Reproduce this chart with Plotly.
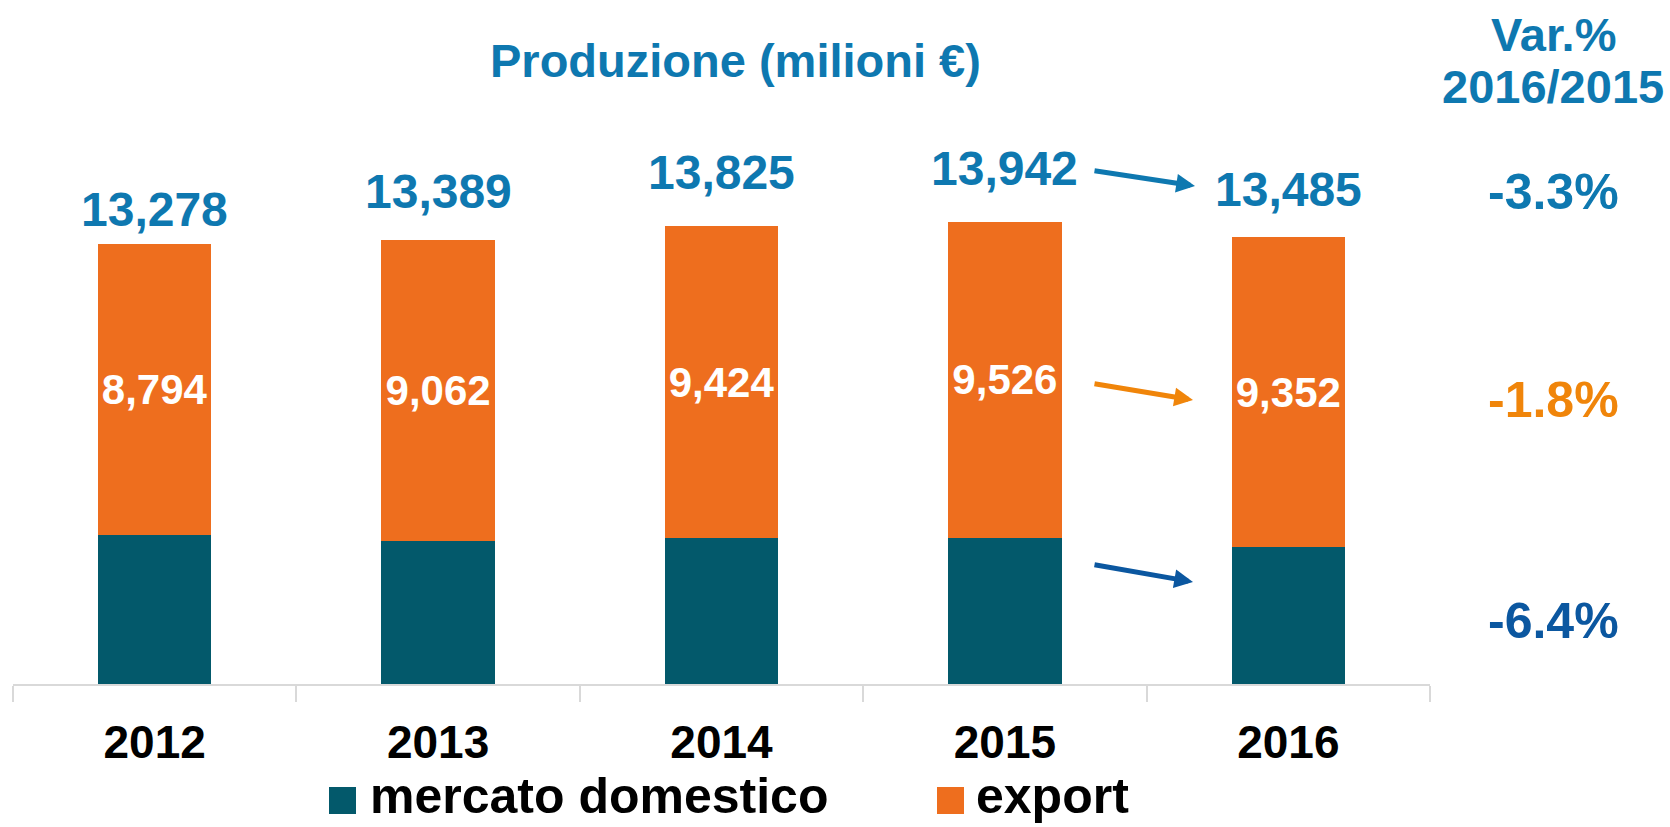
import plotly.graph_objects as go

# ---- data ----
years = ["2012", "2013", "2014", "2015", "2016"]
totals = [13278, 13389, 13825, 13942, 13485]
export = [8794, 9062, 9424, 9526, 9352]
domestic = [t - e for t, e in zip(totals, export)]
var_labels = ["-3.3%", "-1.8%", "-6.4%"]
series_names = ["mercato domestico", "export"]

# ---- style ----
C_ORANGE = "#EE6E1E"
C_TEAL = "#03596B"
C_BLUE = "#0E78B0"
C_DBLUE = "#0B57A0"
C_ORANGE2 = "#F0850A"
FONT = "Liberation Sans, Arial, sans-serif"

W, H = 1670, 827
ML, MR, MT, MB = 13, 240, 154, 143
PW, PH = W - ML - MR, H - MT - MB


def px(x):
    return (x - ML) / PW


def py(y):
    return (H - MB - y) / PH


fig = go.Figure()
fig.add_trace(go.Bar(
    x=years, y=domestic, name=series_names[0], marker_color=C_TEAL,
    marker_line_width=0, showlegend=False, hoverinfo="skip"))
fig.add_trace(go.Bar(
    x=years, y=export, name=series_names[1], marker_color=C_ORANGE,
    marker_line_width=0, showlegend=False,
    text=[f"{v:,}" for v in export], textposition="inside",
    insidetextanchor="middle", textangle=0, constraintext="none",
    textfont=dict(family=FONT, size=42, color="white", weight="bold"),
    hoverinfo="skip"))

# totals above bars
total_offsets = [35, 49, 54, 54, 48]
annotations = []
for i, (t, off) in enumerate(zip(totals, total_offsets)):
    annotations.append(dict(
        x=i, y=t, xref="x", yref="y", text=f"{t:,}", showarrow=False,
        xanchor="center", yanchor="middle", yshift=off,
        font=dict(family=FONT, size=48, color=C_BLUE, weight="bold")))

# title and headers
annotations.append(dict(x=px(735), y=py(61), xref="paper", yref="paper",
                        text="Produzione (milioni €)", showarrow=False,
                        xanchor="center", yanchor="middle",
                        font=dict(family=FONT, size=47, color=C_BLUE, weight="bold")))
annotations.append(dict(x=px(1553), y=py(35), xref="paper", yref="paper",
                        text="Var.%", showarrow=False, xanchor="center", yanchor="middle",
                        font=dict(family=FONT, size=47, color=C_BLUE, weight="bold")))
annotations.append(dict(x=px(1553), y=py(87), xref="paper", yref="paper",
                        text="2016/2015", showarrow=False, xanchor="center", yanchor="middle",
                        font=dict(family=FONT, size=47, color=C_BLUE, weight="bold")))

var_colors = [C_BLUE, C_ORANGE2, C_DBLUE]
var_y = [192, 400, 621]
for t, c, yy in zip(var_labels, var_colors, var_y):
    annotations.append(dict(x=px(1553), y=py(yy), xref="paper", yref="paper",
                            text=t, showarrow=False, xanchor="center", yanchor="middle",
                            font=dict(family=FONT, size=50, color=c, weight="bold")))

# arrows
arrows = [((1195, 186), (-102, -15.5), C_BLUE),
          ((1193, 400), (-100, -16.5), C_ORANGE2),
          ((1193, 582), (-100, -17.5), C_DBLUE)]
for (hx, hy), (ax, ay), c in arrows:
    annotations.append(dict(x=px(hx), y=py(hy), xref="paper", yref="paper",
                            ax=ax, ay=ay, axref="pixel", ayref="pixel", text="",
                            showarrow=True, arrowhead=2, arrowsize=0.75,
                            arrowwidth=5, arrowcolor=c))

# manual legend
shapes = []
leg_items = [(329, 369, C_TEAL, series_names[0]), (937, 975, C_ORANGE, series_names[1])]
for sx, tx, c, name in leg_items:
    shapes.append(dict(type="rect", xref="paper", yref="paper",
                       x0=px(sx), x1=px(sx + 27), y0=py(814), y1=py(787),
                       fillcolor=c, line_width=0))
    annotations.append(dict(x=px(tx), y=py(796), xref="paper", yref="paper",
                            text=name, showarrow=False, xanchor="left", yanchor="middle",
                            borderpad=0,
                            font=dict(family=FONT, size=50, color="black", weight="bold")))

fig.update_layout(
    width=W, height=H, barmode="stack", bargap=0.6,
    margin=dict(l=ML, r=MR, t=MT, b=MB, pad=0),
    paper_bgcolor="white", plot_bgcolor="white",
    showlegend=False,
    annotations=annotations, shapes=shapes,
    xaxis=dict(type="category", range=[-0.5, 4.5], showline=True,
               linecolor="#D9D9D9", linewidth=1.5, ticks="outside",
               tickson="boundaries", ticklen=16, tickcolor="#D9D9D9",
               tickwidth=1.5, showgrid=False, fixedrange=True,
               tickfont=dict(family=FONT, size=46, color="black", weight="bold"),
               ticklabelstandoff=17),
    yaxis=dict(range=[0, 16000], visible=False, showgrid=False, fixedrange=True),
)

fig.write_html("out.html", config={"displayModeBar": False},
               post_script="document.body.style.margin='0';")
